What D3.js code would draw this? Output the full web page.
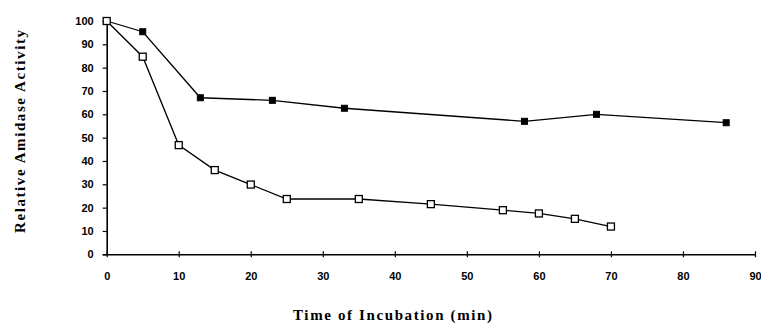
<!DOCTYPE html>
<html>
<head>
<meta charset="utf-8">
<script src="https://cdn.jsdelivr.net/npm/d3@7"></script>
<style>
  html, body { margin: 0; padding: 0; background: #fff; }
  svg { display: block; }
</style>
</head>
<body>
<svg id="chart" width="761" height="332"></svg>
<script>
// Incubation time (min) and relative amidase activity (%) for the two preparations
const filledTimes  = [0, 5, 13, 23, 33, 58, 68, 86];
const filledValues = [100, 95.4, 67.1, 66, 62.6, 57, 60, 56.4];

const openTimes  = [0, 5, 10, 15, 20, 25, 35, 45, 55, 60, 65, 70];
const openValues = [100, 84.7, 46.8, 36.1, 29.9, 23.7, 23.7, 21.5, 18.9, 17.5, 15.2, 11.9];

const xTicks = [0, 10, 20, 30, 40, 50, 60, 70, 80, 90];
const yTicks = [0, 10, 20, 30, 40, 50, 60, 70, 80, 90, 100];

const xTitle = "Time of Incubation (min)";
const yTitle = "Relative Amidase Activity";

const svg = d3.select("#chart");

const x = d3.scaleLinear().domain([0, 90]).range([106.7, 755]);
const y = d3.scaleLinear().domain([0, 100]).range([254.3, 21]);

const tickFont = "'Liberation Sans', Arial, sans-serif";
const titleFont = "'Liberation Serif', 'Times New Roman', serif";

// Y axis
const yAxis = svg.append("g")
  .attr("transform", `translate(${x(0)},0)`)
  .call(d3.axisLeft(y).tickValues(yTicks).tickSize(4).tickPadding(9).tickFormat(d3.format("d")));
yAxis.select(".domain").attr("stroke", "#000").attr("stroke-width", 1.6);
yAxis.selectAll(".tick line").attr("stroke", "#000").attr("stroke-width", 1.2);
yAxis.selectAll(".tick text")
  .attr("fill", "#000")
  .style("font-family", tickFont)
  .style("font-weight", "bold")
  .style("font-size", "11px");

// X axis with ticks crossing the line
const xAxis = svg.append("g")
  .attr("transform", `translate(0,${y(0)})`)
  .call(d3.axisBottom(x).tickValues(xTicks).tickSize(0).tickPadding(18).tickFormat(d3.format("d")));
xAxis.select(".domain").attr("stroke", "#000").attr("stroke-width", 1.6);
xAxis.selectAll(".tick line").attr("y1", -3).attr("y2", 3).attr("stroke", "#000").attr("stroke-width", 1.2);
xAxis.selectAll(".tick text")
  .attr("fill", "#000")
  .style("font-family", tickFont)
  .style("font-weight", "bold")
  .style("font-size", "11px");

// Axis titles, letter-spaced to their printed widths
svg.append("text")
  .attr("x", 293)
  .attr("y", 320)
  .attr("textLength", 199)
  .attr("lengthAdjust", "spacing")
  .style("font-family", titleFont)
  .style("font-size", "15px")
  .style("font-weight", "600")
  .attr("fill", "#000")
  .text(xTitle);

svg.append("text")
  .attr("transform", "translate(25,233) rotate(-90)")
  .attr("textLength", 203)
  .attr("lengthAdjust", "spacing")
  .style("font-family", titleFont)
  .style("font-size", "15px")
  .style("font-weight", "bold")
  .attr("fill", "#000")
  .text(yTitle);

const line = d3.line().x(d => x(d[0])).y(d => y(d[1]));

const filled = d3.zip(filledTimes, filledValues);
const open = d3.zip(openTimes, openValues);

// Filled-square series
svg.append("path")
  .datum(filled)
  .attr("d", line)
  .attr("fill", "none")
  .attr("stroke", "#000")
  .attr("stroke-width", 1.3);

// Open-square series
svg.append("path")
  .datum(open)
  .attr("d", line)
  .attr("fill", "none")
  .attr("stroke", "#000")
  .attr("stroke-width", 1.3);

const sf = 6;
svg.append("g").selectAll("rect")
  .data(filled)
  .join("rect")
  .attr("x", d => x(d[0]) - sf / 2)
  .attr("y", d => y(d[1]) - sf / 2)
  .attr("width", sf)
  .attr("height", sf)
  .attr("fill", "#000")
  .attr("stroke", "#000")
  .attr("stroke-width", 1);

const so = 7;
svg.append("g").selectAll("rect")
  .data(open)
  .join("rect")
  .attr("x", d => x(d[0]) - so / 2)
  .attr("y", d => y(d[1]) - so / 2)
  .attr("width", so)
  .attr("height", so)
  .attr("fill", "#fff")
  .attr("stroke", "#000")
  .attr("stroke-width", 1.3);
</script>
</body>
</html>
